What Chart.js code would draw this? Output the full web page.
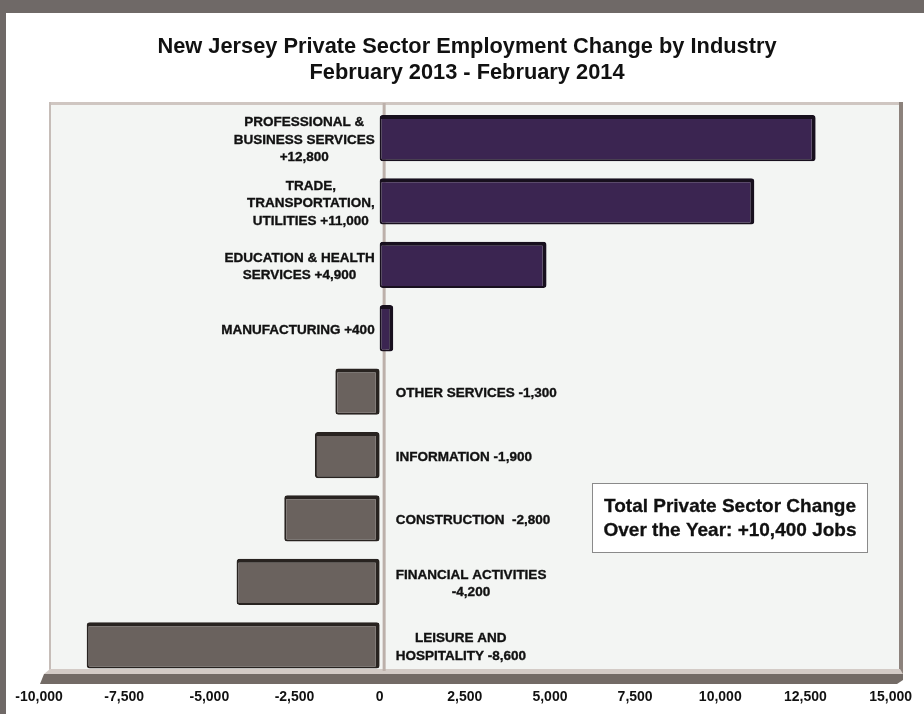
<!DOCTYPE html>
<html>
<head>
<meta charset="utf-8">
<script src="https://cdn.jsdelivr.net/npm/chart.js@4"></script>
<style>
  html, body { margin: 0; padding: 0; background: #fff; }
  canvas { display: block; }
</style>
</head>
<body>
<canvas id="jobsChart" width="924" height="714"></canvas>
<script>
const industries = [
  ["PROFESSIONAL &", "BUSINESS SERVICES", "+12,800"],
  ["TRADE,", "TRANSPORTATION,", "UTILITIES +11,000"],
  ["EDUCATION & HEALTH", "SERVICES +4,900"],
  ["MANUFACTURING +400"],
  ["OTHER SERVICES -1,300"],
  ["INFORMATION -1,900"],
  ["CONSTRUCTION  -2,800"],
  ["FINANCIAL ACTIVITIES", "-4,200"],
  ["LEISURE AND", "HOSPITALITY -8,600"]
];
const jobChange = [12800, 11000, 4900, 400, -1300, -1900, -2800, -4200, -8600];
const xTicks = [-10000, -7500, -5000, -2500, 0, 2500, 5000, 7500, 10000, 12500, 15000];
const titleLines = [
  "New Jersey Private Sector Employment Change by Industry",
  "February 2013 - February 2014"
];
const noteLines = ["Total Private Sector Change", "Over the Year: +10,400 Jobs"];

const FONT = "'Liberation Sans', Arial, sans-serif";

// page frame, plot walls and floor
const backdrop = {
  id: "backdrop",
  beforeDraw(chart) {
    const { ctx, width, height } = chart;
    ctx.save();
    ctx.fillStyle = "#6f6967";
    ctx.fillRect(0, 0, width, height);
    ctx.fillStyle = "#ffffff";
    ctx.fillRect(6, 13, width - 6, height - 13);

    ctx.fillStyle = "#f3f5f3";
    ctx.fillRect(50, 103, 850, 570);
    // top wall edge
    ctx.fillStyle = "#cfc6c1";
    ctx.fillRect(50, 102, 853, 3);
    // left wall edge
    ctx.fillStyle = "#c6bdb8";
    ctx.fillRect(49, 102, 2, 571);
    // right wall
    ctx.fillStyle = "#8c827c";
    ctx.fillRect(899, 102, 4, 578);
    // floor
    ctx.fillStyle = "#d3cbc6";
    ctx.beginPath();
    ctx.moveTo(50, 669); ctx.lineTo(900, 669); ctx.lineTo(903, 674); ctx.lineTo(44, 674);
    ctx.closePath(); ctx.fill();
    ctx.fillStyle = "#736b66";
    ctx.beginPath();
    ctx.moveTo(44, 674); ctx.lineTo(903, 674); ctx.lineTo(903, 680); ctx.lineTo(897, 684); ctx.lineTo(40, 684);
    ctx.closePath(); ctx.fill();
    ctx.restore();
  },
  beforeDatasetsDraw(chart) {
    const { ctx } = chart;
    const x0 = chart.scales.x.getPixelForValue(0);
    ctx.save();
    ctx.fillStyle = "#bcb0aa";
    ctx.fillRect(x0 + 3, 103, 3, 568);
    ctx.restore();
  }
};

function boldText(ctx, text, x, y) {
  ctx.fillText(text, x, y);
  ctx.strokeText(text, x, y);
}

// category + value labels beside each bar, and the summary box
const annotations = {
  id: "annotations",
  afterDatasetsDraw(chart) {
    const { ctx } = chart;
    const x0 = chart.scales.x.getPixelForValue(0);
    const meta = chart.getDatasetMeta(0);
    ctx.save();
    ctx.fillStyle = "#111";
    ctx.strokeStyle = "#111";
    ctx.lineWidth = 0.35;
    ctx.font = "bold 13.5px " + FONT;
    ctx.textAlign = "center";
    ctx.textBaseline = "middle";
    const lh = 17.5;
    meta.data.forEach((bar, i) => {
      const lines = industries[i];
      const w = Math.max(...lines.map(l => ctx.measureText(l).width));
      const cx = jobChange[i] >= 0 ? x0 - 5 - w / 2 : x0 + 16 + w / 2;
      const top = bar.y + 2 - (lines.length - 1) * lh / 2;
      lines.forEach((l, k) => boldText(ctx, l, cx, top + k * lh));
    });

    // summary box
    ctx.fillStyle = "#ffffff";
    ctx.fillRect(592, 483, 276, 70);
    ctx.strokeStyle = "#8a8a8a";
    ctx.lineWidth = 1;
    ctx.strokeRect(592.5, 483.5, 275, 69);
    ctx.fillStyle = "#111";
    ctx.strokeStyle = "#111";
    ctx.lineWidth = 0.3;
    ctx.font = "bold 19px " + FONT;
    boldText(ctx, noteLines[0], 730, 507);
    boldText(ctx, noteLines[1], 730, 531);
    ctx.restore();
  }
};

new Chart(document.getElementById("jobsChart").getContext("2d"), {
  type: "bar",
  data: {
    labels: industries,
    datasets: [{
      data: jobChange,
      backgroundColor: c => c.raw >= 0 ? "#3b2551" : "#6a625e",
      borderColor: c => c.raw >= 0 ? "#18101e" : "#282320",
      borderWidth: { top: 4, right: 4, bottom: 2, left: 2 },
      borderSkipped: false,
      borderRadius: 3,
      barPercentage: 0.73,
      categoryPercentage: 1
    }]
  },
  options: {
    indexAxis: "y",
    responsive: false,
    animation: false,
    layout: { padding: { left: 39, right: 29, top: 0, bottom: 0 } },
    plugins: {
      legend: { display: false },
      tooltip: { enabled: false },
      title: {
        display: true,
        text: titleLines,
        color: "#111",
        font: { family: FONT, size: 21.8, weight: "bold", lineHeight: 1.2 },
        padding: { top: 34, bottom: 20 }
      }
    },
    scales: {
      x: {
        min: -10000,
        max: 15000,
        afterBuildTicks: s => { s.ticks = xTicks.map(v => ({ value: v })); },
        afterFit: s => { s.height = 37; },
        grid: { display: false, drawTicks: false },
        border: { display: false },
        ticks: {
          autoSkip: false,
          maxRotation: 0,
          padding: 12,
          color: "#111",
          font: { family: FONT, size: 14, weight: "bold" },
          callback: v => v.toLocaleString("en-US")
        }
      },
      y: { display: false }
    }
  },
  plugins: [backdrop, annotations]
});
</script>
</body>
</html>
